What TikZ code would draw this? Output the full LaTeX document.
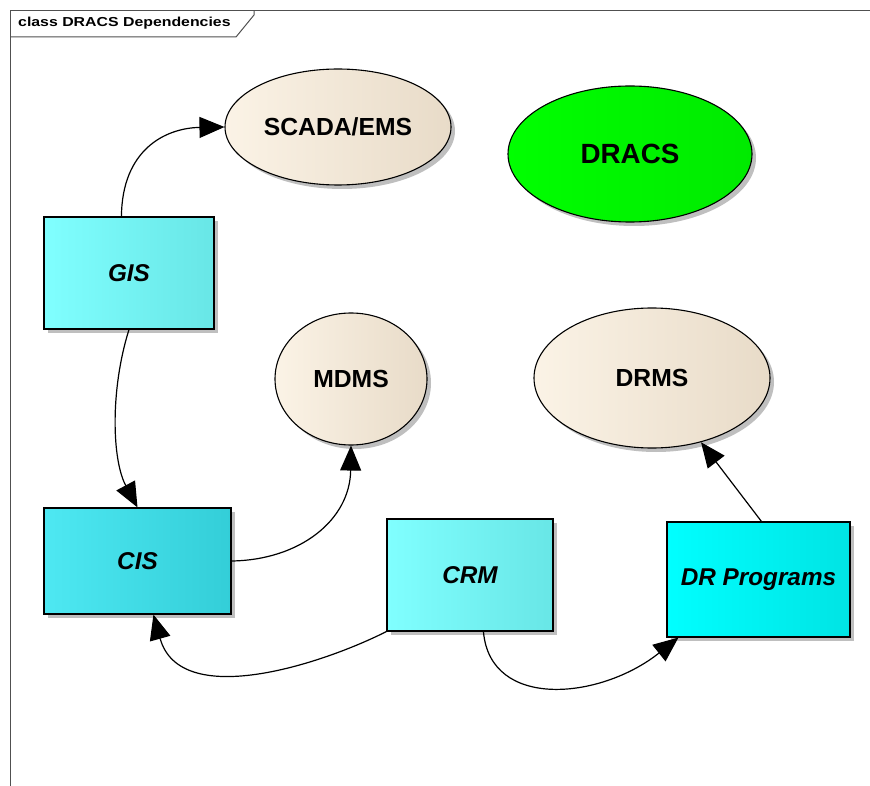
\documentclass[tikz,border=0pt]{standalone}
\usepackage{fontspec}
\setmainfont{Liberation Sans}
\usetikzlibrary{shapes.geometric,arrows.meta,shadows,calc}

\definecolor{frameline}{HTML}{505050}
\definecolor{beigeL}{HTML}{FBF3E6}
\definecolor{beigeR}{HTML}{E8DBC8}
\definecolor{greenL}{HTML}{00FF00}
\definecolor{greenR}{HTML}{00EA00}
\definecolor{cyanLightL}{HTML}{80FFFF}
\definecolor{cyanLightR}{HTML}{68E6E6}
\definecolor{cyanMidL}{HTML}{4EE8F2}
\definecolor{cyanMidR}{HTML}{33CED8}
\definecolor{cyanFullL}{HTML}{00FFFF}
\definecolor{cyanFullR}{HTML}{00E4E4}

\tikzset{
  shade/.style={drop shadow={shadow xshift=4pt,shadow yshift=-4pt,fill=black!25,opacity=1}},
  component/.style={ellipse, draw=black, line width=1.1pt, inner sep=0pt, shade,
    font=\fontsize{24.7}{28}\selectfont\bfseries},
  klass/.style={rectangle, draw=black, line width=1.1pt, inner sep=0pt, shade,
    font=\fontsize{24.3}{28}\selectfont\bfseries\itshape},
  dep/.style={draw=black, line width=1.2pt, -{Triangle[length=25pt,width=21pt]}},
}

\begin{document}
\begin{tikzpicture}[x=1pt,y=-1pt]
\useasboundingbox (0,0) rectangle (870,786);

% diagram frame and its name tab
\draw[frameline, line width=1pt] (10,786) -- (10,11) -- (870,11);
\draw[frameline, line width=1pt] (10,37) -- (236,37) -- (254,15) -- (254,11);
\node[anchor=west, inner sep=0pt] (title) at (18,23)
  {\scalebox{1.22}[1]{\fontsize{13}{15}\selectfont\bfseries class DRACS Dependencies}};

% components
\node[component, minimum width=226pt, minimum height=116pt,
      left color=beigeL, right color=beigeR] (scada) at (338,127) {SCADA/EMS};
\node[component, minimum width=244pt, minimum height=136pt,
      left color=greenL, right color=greenR,
      font=\fontsize{27.8}{30}\selectfont\bfseries] (dracs) at (630,154) {DRACS};
\node[component, minimum width=152pt, minimum height=132pt,
      left color=beigeL, right color=beigeR] (mdms) at (351,379) {MDMS};
\node[component, minimum width=236pt, minimum height=140pt,
      left color=beigeL, right color=beigeR] (drms) at (652,378) {DRMS};

% classes
\node[klass, minimum width=170pt, minimum height=112pt,
      left color=cyanLightL, right color=cyanLightR] (gis) at (129,273) {GIS};
\node[klass, minimum width=187pt, minimum height=106pt,
      left color=cyanMidL, right color=cyanMidR] (cis) at (137.5,561) {CIS};
\node[klass, minimum width=166pt, minimum height=112pt,
      left color=cyanLightL, right color=cyanLightR] (crm) at (470,575) {CRM};
\node[klass, minimum width=183pt, minimum height=115pt,
      left color=cyanFullL, right color=cyanFullR] (drp) at (758.5,579.5) {DR Programs};

% dependencies
\coordinate (gisTop) at ($(gis.north west)+(78,0)$);
\coordinate (cisFoot) at ($(cis.south west)+(110,0)$);
\coordinate (crmFoot) at ($(crm.south west)+(97,0)$);
\coordinate (drpFoot) at ($(drp.south west)+(12,0)$);
\coordinate (drpTop) at ($(drp.north west)+(95,0)$);

\draw[dep] (gisTop) .. controls (122,150) and (165,128) .. (scada.west);
\draw[dep] (gis.south) .. controls (110,390) and (112,460) .. (cis.north);
\draw[dep] (cis.east) .. controls (300,560) and (350,520) .. (mdms.south);
\draw[dep] (crm.south west) .. controls (320,665) and (180,710) .. (cisFoot);
\draw[dep] (crmFoot) .. controls (490,710) and (600,700) .. (drpFoot);
\draw[dep] (drpTop) -- (drms);
\end{tikzpicture}
\end{document}
